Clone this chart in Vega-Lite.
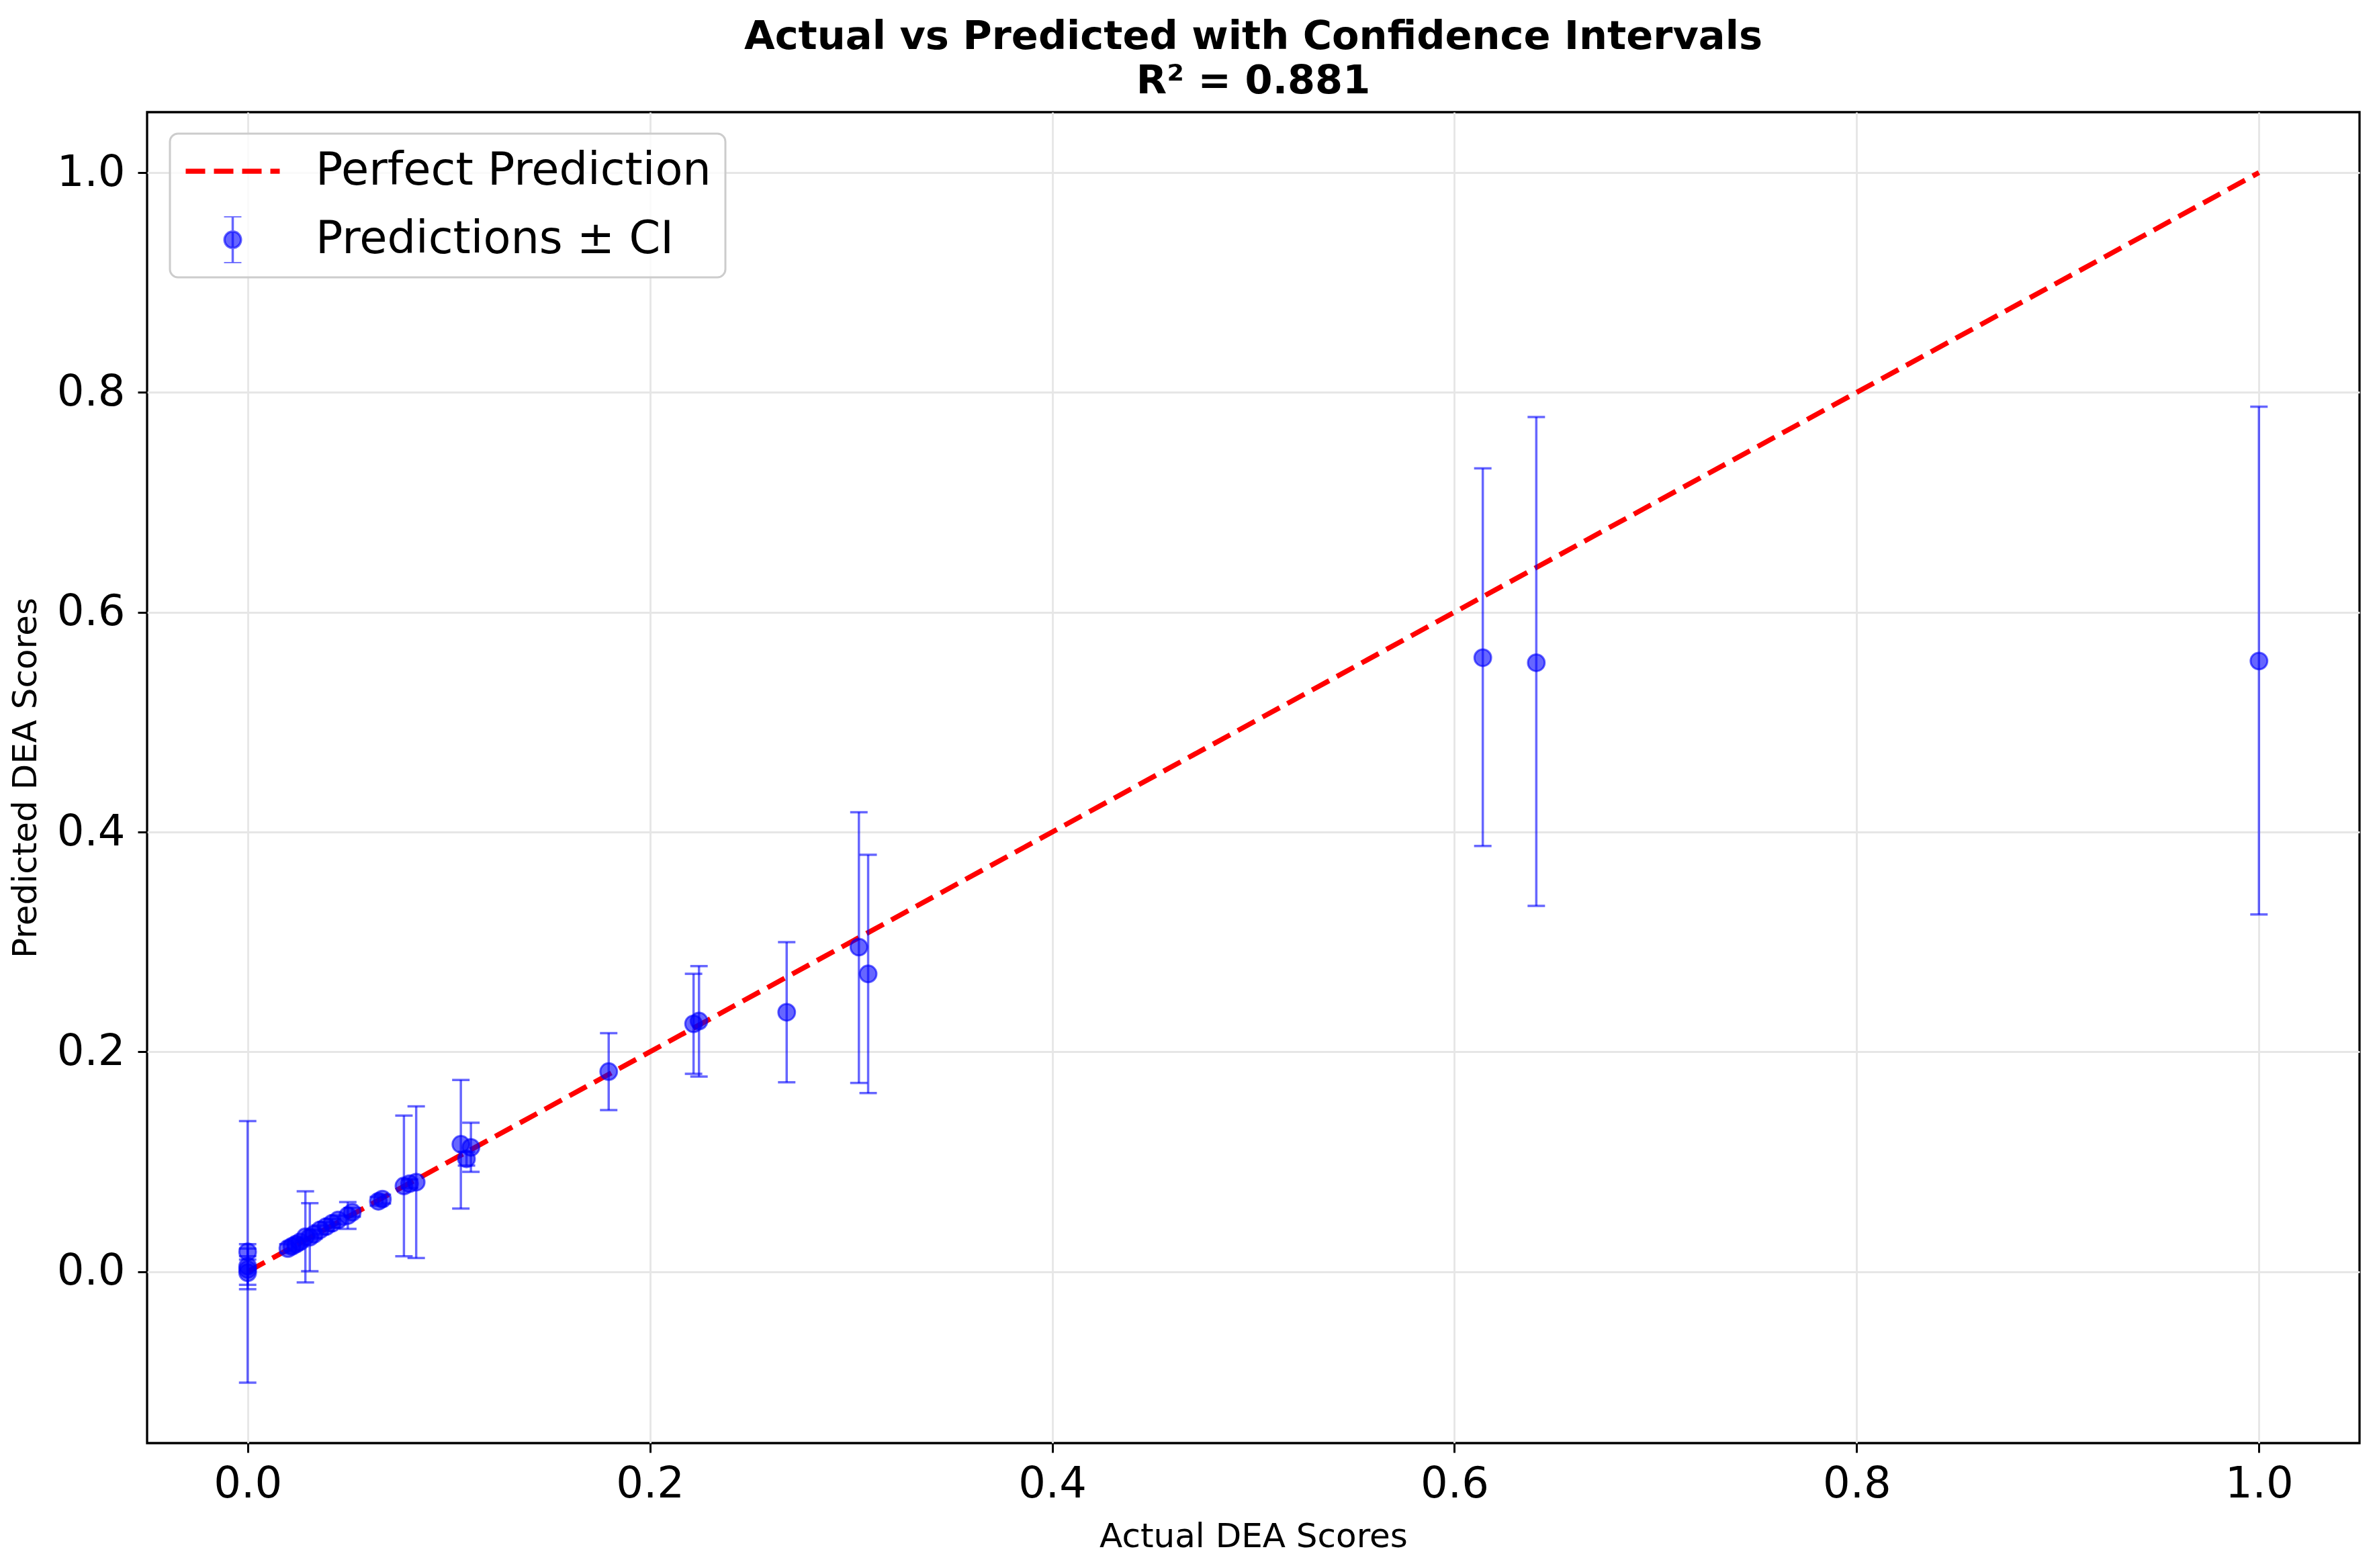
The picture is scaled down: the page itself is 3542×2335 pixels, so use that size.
{
  "$schema": "https://vega.github.io/schema/vega-lite/v6.json",
  "width": 3294,
  "height": 1982,
  "autosize": {"type": "none"},
  "padding": {"left": 219, "top": 167, "right": 29, "bottom": 186},
  "background": "white",
  "title": {
    "text": ["Actual vs Predicted with Confidence Intervals", "R² = 0.881"],
    "font": "DejaVu Sans",
    "fontSize": 59,
    "fontWeight": "bold",
    "color": "black",
    "anchor": "middle",
    "frame": "group",
    "baseline": "bottom",
    "lineHeight": 66,
    "offset": -43
  },
  "datasets": {
    "diag": [
      {"actual": 0, "pred": 0},
      {"actual": 1, "pred": 1}
    ],
    "preds": [
      {"actual": 0, "pred": 0.002, "lo": -0.101, "hi": 0.137},
      {"actual": 0, "pred": 0.018, "lo": 0.011, "hi": 0.025},
      {"actual": 0, "pred": 0.005, "lo": -0.012, "hi": 0.021},
      {"actual": 0, "pred": -0.001, "lo": -0.016, "hi": 0.014},
      {"actual": 0.020, "pred": 0.021, "lo": 0.017, "hi": 0.025},
      {"actual": 0.022, "pred": 0.023, "lo": 0.019, "hi": 0.027},
      {"actual": 0.024, "pred": 0.025, "lo": 0.021, "hi": 0.029},
      {"actual": 0.026, "pred": 0.027, "lo": 0.023, "hi": 0.031},
      {"actual": 0.0287, "pred": 0.0317, "lo": -0.0098, "hi": 0.0731},
      {"actual": 0.0309, "pred": 0.0313, "lo": 0.0004, "hi": 0.0623},
      {"actual": 0.033, "pred": 0.034, "lo": 0.030, "hi": 0.038},
      {"actual": 0.036, "pred": 0.038, "lo": 0.034, "hi": 0.042},
      {"actual": 0.039, "pred": 0.041, "lo": 0.037, "hi": 0.045},
      {"actual": 0.042, "pred": 0.044, "lo": 0.040, "hi": 0.048},
      {"actual": 0.045, "pred": 0.047, "lo": 0.043, "hi": 0.051},
      {"actual": 0.0498, "pred": 0.051, "lo": 0.0389, "hi": 0.0633},
      {"actual": 0.052, "pred": 0.054, "lo": 0.050, "hi": 0.058},
      {"actual": 0.065, "pred": 0.064, "lo": 0.060, "hi": 0.068},
      {"actual": 0.067, "pred": 0.066, "lo": 0.062, "hi": 0.070},
      {"actual": 0.0777, "pred": 0.078, "lo": 0.014, "hi": 0.142},
      {"actual": 0.0805, "pred": 0.080, "lo": 0.076, "hi": 0.084},
      {"actual": 0.0838, "pred": 0.0814, "lo": 0.0124, "hi": 0.1504},
      {"actual": 0.106, "pred": 0.1159, "lo": 0.0574, "hi": 0.1744},
      {"actual": 0.1088, "pred": 0.1026, "lo": 0.0965, "hi": 0.109},
      {"actual": 0.111, "pred": 0.113, "lo": 0.0908, "hi": 0.1355},
      {"actual": 0.1795, "pred": 0.182, "lo": 0.147, "hi": 0.217},
      {"actual": 0.2217, "pred": 0.2255, "lo": 0.180, "hi": 0.271},
      {"actual": 0.2244, "pred": 0.228, "lo": 0.1775, "hi": 0.278},
      {"actual": 0.268, "pred": 0.236, "lo": 0.1723, "hi": 0.2998},
      {"actual": 0.3039, "pred": 0.2953, "lo": 0.1717, "hi": 0.418},
      {"actual": 0.3085, "pred": 0.2709, "lo": 0.1625, "hi": 0.3793},
      {"actual": 0.6141, "pred": 0.5586, "lo": 0.3873, "hi": 0.7309},
      {"actual": 0.6407, "pred": 0.554, "lo": 0.3328, "hi": 0.7776},
      {"actual": 1.0, "pred": 0.5556, "lo": 0.325, "hi": 0.787}
    ]
  },
  "layer": [
    {
      "data": {"name": "diag"},
      "mark": {"type": "line", "strokeWidth": 7.5, "strokeDash": [29, 13], "strokeCap": "butt"},
      "encoding": {
        "x": {
          "field": "actual", "type": "quantitative",
          "scale": {"domain": [-0.05, 1.05], "nice": false, "zero": false},
          "axis": {"values": [0, 0.2, 0.4, 0.6, 0.8, 1.0], "format": ".1f", "title": "Actual DEA Scores", "titleY": 154, "titleBaseline": "alphabetic"}
        },
        "y": {
          "field": "pred", "type": "quantitative",
          "scale": {"domain": [-0.156, 1.055], "nice": false, "zero": false},
          "axis": {"values": [0, 0.2, 0.4, 0.6, 0.8, 1.0], "format": ".1f", "title": "Predicted DEA Scores", "titleX": -166, "titleY": 991, "titleBaseline": "alphabetic", "titleAngle": -90, "titleAlign": "center"}
        },
        "color": {
          "datum": "Perfect Prediction",
          "scale": {"domain": ["Perfect Prediction", "Predictions ± CI"], "range": ["red", "blue"]},
          "legend": {
            "title": null,
            "orient": "none",
            "legendX": 34,
            "legendY": 32,
            "padding": 21,
            "cornerRadius": 12,
            "fillColor": "rgba(255,255,255,0.8)",
            "strokeColor": "#cccccc",
            "symbolSize": 4900,
            "symbolStrokeWidth": 0,
            "symbolOffset": 39,
            "labelOffset": 90,
            "clipHeight": 70,
            "rowPadding": 32,
            "labelFont": "DejaVu Sans",
            "labelFontSize": 67,
            "labelColor": "black",
            "labelLimit": 2000,
            "encode": {
              "legend": {"update": {"strokeWidth": {"value": 3}}},
              "symbols": {
                "update": {
                  "shape": {"signal": "datum.value === 'Perfect Prediction' ? 'M-2,0L2,0' : 'M-0.35,0A0.35,0.35 0 1,0 0.35,0A0.35,0.35 0 1,0 -0.35,0ZM0,-1L0,1M-0.37,-1L0.37,-1M-0.37,1L0.37,1'"},
                  "stroke": {"signal": "datum.value === 'Perfect Prediction' ? 'red' : 'blue'"},
                  "fill": {"signal": "datum.value === 'Perfect Prediction' ? 'transparent' : 'blue'"},
                  "strokeWidth": {"signal": "datum.value === 'Perfect Prediction' ? 7.5 : 3.5"},
                  "strokeDash": {"signal": "datum.value === 'Perfect Prediction' ? [29, 13] : [1, 0]"},
                  "strokeOpacity": {"signal": "datum.value === 'Perfect Prediction' ? 1 : 0.6"},
                  "fillOpacity": {"signal": "datum.value === 'Perfect Prediction' ? 0 : 0.6"},
                  "opacity": {"value": 1}
                }
              }
            }
          }
        }
      }
    },
    {
      "data": {"name": "preds"},
      "mark": {"type": "rule", "color": "blue", "opacity": 0.6, "strokeWidth": 3.5},
      "encoding": {
        "x": {"field": "actual", "type": "quantitative", "title": "Actual DEA Scores"},
        "y": {"field": "lo", "type": "quantitative", "title": "Predicted DEA Scores"},
        "y2": {"field": "hi"}
      }
    },
    {
      "data": {"name": "preds"},
      "mark": {"type": "tick", "orient": "horizontal", "color": "blue", "opacity": 0.6, "size": 26, "thickness": 3.5},
      "encoding": {
        "x": {"field": "actual", "type": "quantitative", "title": "Actual DEA Scores"},
        "y": {"field": "hi", "type": "quantitative", "title": "Predicted DEA Scores"}
      }
    },
    {
      "data": {"name": "preds"},
      "mark": {"type": "tick", "orient": "horizontal", "color": "blue", "opacity": 0.6, "size": 26, "thickness": 3.5},
      "encoding": {
        "x": {"field": "actual", "type": "quantitative", "title": "Actual DEA Scores"},
        "y": {"field": "lo", "type": "quantitative", "title": "Predicted DEA Scores"}
      }
    },
    {
      "data": {"name": "preds"},
      "mark": {"type": "point", "shape": "circle", "filled": true, "size": 620, "fillOpacity": 0.6, "stroke": "blue", "strokeOpacity": 0.6, "strokeWidth": 3},
      "encoding": {
        "x": {"field": "actual", "type": "quantitative", "title": "Actual DEA Scores"},
        "y": {"field": "pred", "type": "quantitative", "title": "Predicted DEA Scores"},
        "color": {"datum": "Predictions ± CI"}
      }
    }
  ],
  "config": {
    "font": "DejaVu Sans",
    "view": {"stroke": "black", "strokeWidth": 3.3},
    "axis": {
      "domain": false,
      "grid": true,
      "gridColor": "#e6e6e6",
      "gridWidth": 2.8,
      "ticks": true,
      "tickColor": "black",
      "tickWidth": 3,
      "tickSize": 14,
      "labelFont": "DejaVu Sans",
      "labelFontSize": 64,
      "labelColor": "black",
      "titleFont": "DejaVu Sans",
      "titleFontSize": 50,
      "titleFontWeight": "normal",
      "titleColor": "black"
    },
    "axisX": {"labelPadding": 15},
    "axisY": {"labelPadding": 19}
  }
}
